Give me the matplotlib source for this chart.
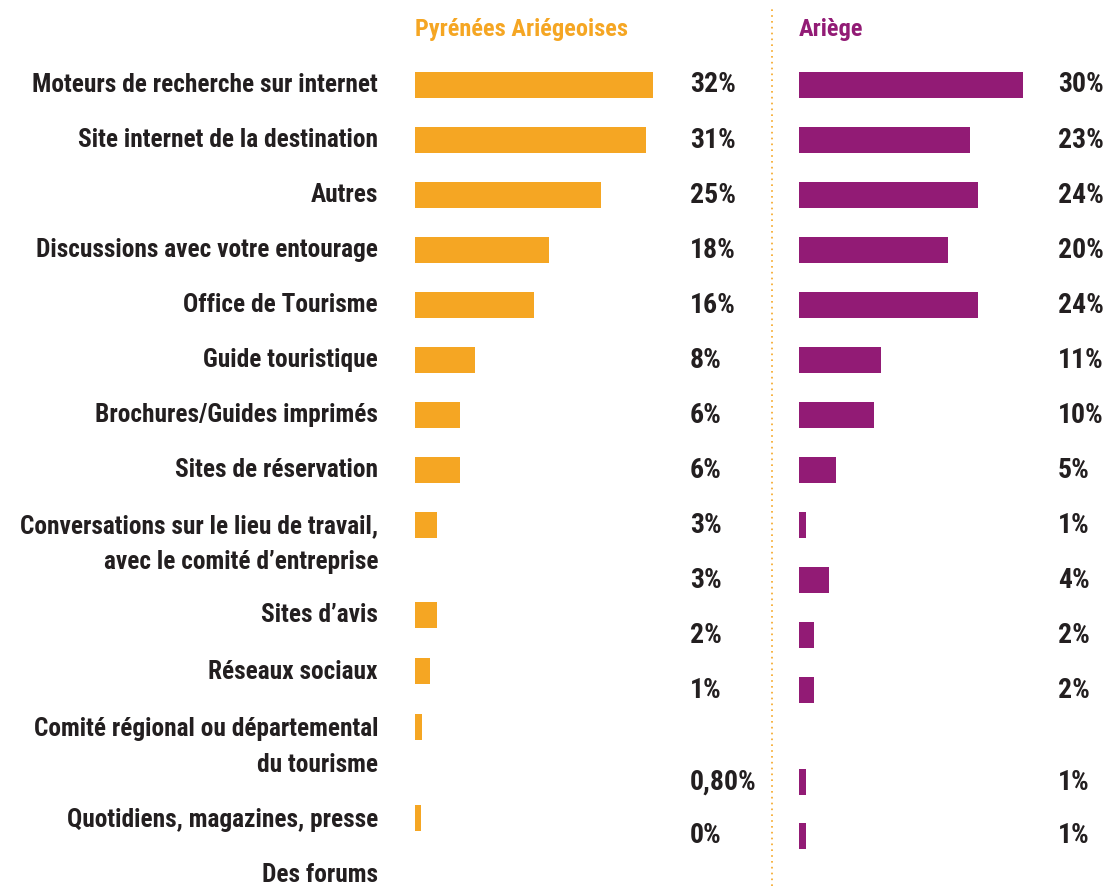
import matplotlib.pyplot as plt
from matplotlib.lines import Line2D

# données
categories = ["Moteurs de recherche sur internet", "Site internet de la destination", "Autres",
              "Discussions avec votre entourage", "Office de Tourisme", "Guide touristique",
              "Brochures/Guides imprimés", "Sites de réservation",
              "Conversations sur le lieu de travail,\navec le comité d’entreprise",
              "Sites d’avis", "Réseaux sociaux",
              "Comité régional ou départemental\ndu tourisme",
              "Quotidiens, magazines, presse", "Des forums"]
pa_values = [32, 31, 25, 18, 16, 8, 6, 6, 3, 3, 2, 1, 0.8]
pa_labels = ["32%", "31%", "25%", "18%", "16%", "8%", "6%", "6%", "3%", "3%", "2%", "1%", "0,80%", "0%"]
ariege_values = [30, 23, 24, 20, 24, 11, 10, 5, 1, 4, 2, 2, 1, 1]
ariege_labels = ["30%", "23%", "24%", "20%", "24%", "11%", "10%", "5%", "1%", "4%", "2%", "2%", "1%", "1%"]

# positions des lignes (en unités de ligne), l'infographie d'origine est un peu décalée
label_rows = [0, 1, 2, 3, 4, 5, 6, 7, 8.34, 9.64, 10.67, 12.03, 13.36, 14.36]
pa_bar_rows = [0, 1, 2, 3, 4, 5, 6, 7, 8, 9.64, 10.65, 11.67, 13.33]
value_rows = [0, 1, 2, 3, 4, 5, 6, 7, 8, 9, 10, 11, 12.67, 13.65]

orange = "#F5A623"
violet = "#921B75"
texte = "#231F20"
police = ["Liberation Sans Narrow", "DejaVu Sans Condensed", "Roboto Condensed", "DejaVu Sans"]
plt.rcParams["font.family"] = police

W, H = 1110, 886
px = 7.45  # pixels par point de %
ylim = (14.56, -1.545)

fig = plt.figure(figsize=(W / 100, H / 100), dpi=100)
ax_l = fig.add_axes([415 / W, 0, 365 / W, 1])
ax_r = fig.add_axes([799 / W, 0, 311 / W, 1])

ax_l.barh(pa_bar_rows, pa_values, height=0.47, color=orange)
ax_r.barh(value_rows, ariege_values, height=0.47, color=violet)

for ax, largeur in [(ax_l, 365), (ax_r, 311)]:
    ax.set_xlim(0, largeur / px)
    ax.set_ylim(*ylim)
    ax.axis("off")

# libellés des catégories
for lab, y in zip(categories, label_rows):
    ax_l.text(-(415 - 378) / px, y, lab, ha="right", va="center", fontsize=18.3,
              fontweight="bold", color=texte, linespacing=1.6, clip_on=False)

# pourcentages
for lab, y in zip(pa_labels, value_rows):
    ax_l.text((690 - 415) / px, y, lab, ha="left", va="center", fontsize=20,
              fontweight="bold", color=texte, clip_on=False)
for lab, y in zip(ariege_labels, value_rows):
    ax_r.text((1058 - 799) / px, y, lab, ha="left", va="center", fontsize=20,
              fontweight="bold", color=texte, clip_on=False)

# titres des colonnes
ax_l.text(0, -1.0, "Pyrénées Ariégeoises", ha="left", va="center", fontsize=17.6,
          fontweight="bold", color=orange, clip_on=False)
ax_r.text(0, -1.0, "Ariège", ha="left", va="center", fontsize=17.6,
          fontweight="bold", color=violet, clip_on=False)

# séparateur pointillé
fig.add_artist(Line2D([772 / W, 772 / W], [0, 1 - 8 / H], transform=fig.transFigure,
                      linestyle=(0, (1, 2.5)), color=orange, lw=1.2))

fig.savefig("out.png", dpi=100, facecolor="white")
